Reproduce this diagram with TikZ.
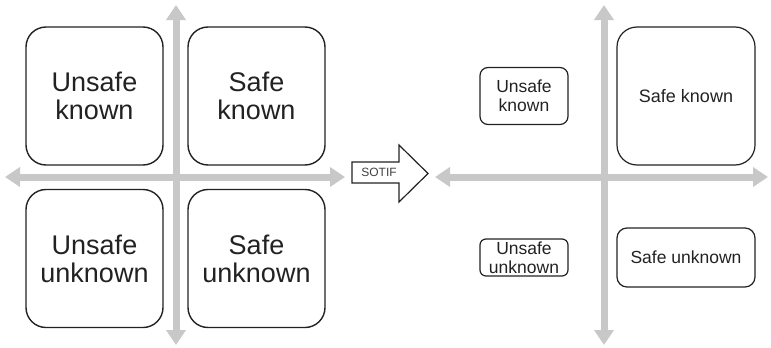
\documentclass[tikz,border=0pt]{standalone}
\usepackage{fontspec}
\setmainfont{Liberation Sans}
\usetikzlibrary{arrows.meta}
\definecolor{axisgray}{HTML}{C8C8C8}
\definecolor{txt}{HTML}{222222}
\tikzset{
  axis/.style={draw=axisgray, line width=7pt,
    {Triangle[length=15pt,width=19pt]}-{Triangle[length=15pt,width=19pt]}},
  bigbox/.style={draw=txt, line width=1.4pt, rounded corners=20pt, minimum width=137pt, minimum height=138pt,
    align=center, text=txt, font=\fontsize{27pt}{28pt}\selectfont, inner sep=0pt},
  smallbox/.style={draw=txt, line width=1.2pt, align=center, text=txt, inner sep=0pt,
    font=\fontsize{17.5pt}{19pt}\selectfont},
}
\begin{document}
\begin{tikzpicture}[x=1pt,y=-1pt]
\useasboundingbox (0,0) rectangle (771,348);
% left axes
\coordinate (lt) at (176,5);
\coordinate (lb) at (176,345);
\coordinate (ll) at (5,177);
\coordinate (lr) at (345,177);
\draw[axis] (lt) -- (lb);
\draw[axis] (ll) -- (lr);
% left boxes
\node[bigbox] (uk) at (94.5,96) {Unsafe\\known};
\node[bigbox] (sk) at (256.5,96) {Safe\\known};
\node[bigbox] (uu) at (94.5,258.5) {Unsafe\\unknown};
\node[bigbox] (su) at (256.5,258.5) {Safe\\unknown};
% SOTIF arrow
\draw[draw=txt, line width=1.2pt, fill=white, line join=miter]
  (352,162) -- (399,162) -- (399,145) -- (428,173.5) -- (399,202) -- (399,183) -- (352,183) -- cycle;
\node[text=black!75, font=\fontsize{12pt}{14pt}\selectfont] (sotif) at (379,172.5) {SOTIF};
% right axes
\coordinate (rt) at (604,5);
\coordinate (rb) at (604,345);
\coordinate (rl) at (435,177);
\coordinate (rr) at (768,177);
\draw[axis] (rt) -- (rb);
\draw[axis] (rl) -- (rr);
% right boxes
\node[smallbox, rounded corners=8pt, minimum width=88pt, minimum height=57pt] (ruk) at (524,96) {Unsafe\\known};
\node[smallbox, rounded corners=20pt, minimum width=138pt, minimum height=138pt, font=\fontsize{18pt}{19pt}\selectfont] (rsk) at (686,96) {Safe known};
\node[smallbox, rounded corners=6pt, minimum width=88pt, minimum height=37pt] (ruu) at (524,257.5) {Unsafe\\unknown};
\node[smallbox, rounded corners=10pt, minimum width=138pt, minimum height=59pt] (rsu) at (686,257.5) {Safe unknown};
\end{tikzpicture}
\end{document}
